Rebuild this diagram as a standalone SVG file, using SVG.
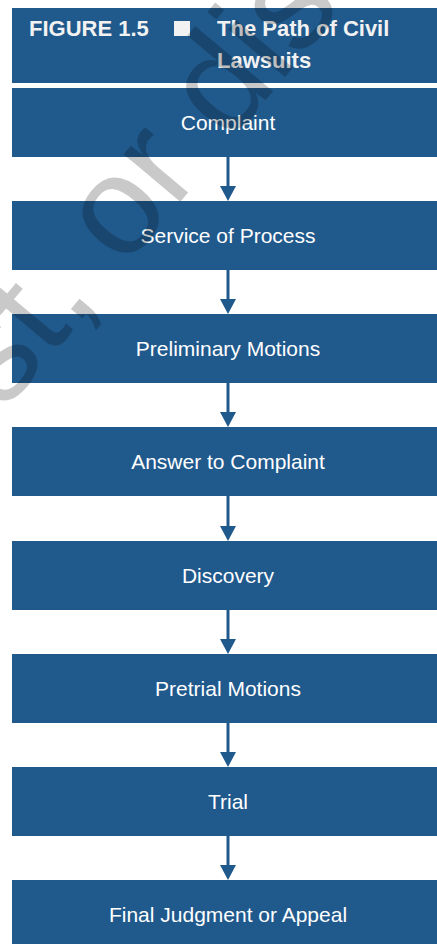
<svg xmlns="http://www.w3.org/2000/svg" width="437" height="944" viewBox="0 0 437 944">
  <style>
    .box { fill: #20598c; }
    .label { font-family: "Liberation Sans", Arial, sans-serif; font-size: 21px; fill: #ffffff; text-anchor: middle; }
    .title { font-family: "Liberation Sans", Arial, sans-serif; font-size: 22px; font-weight: bold; fill: #f2f2f2; }
    .link { stroke: #20598c; stroke-width: 3; fill: none; }
    .head { fill: #20598c; }
    .mark { font-family: "Liberation Sans", Arial, sans-serif; font-size: 140px; fill: #000000; fill-opacity: 0.21; }
  </style>
  <rect width="437" height="944" fill="#ffffff"/>

  <!-- heading bar -->
  <g id="title">
    <rect class="box" x="12" y="8" width="425" height="75"/>
    <text class="title" x="29" y="36">FIGURE 1.5</text>
    <rect x="174" y="21" width="16" height="15" fill="#f2f2f2"/>
    <text class="title" x="217" y="36">The Path of Civil</text>
    <text class="title" x="217" y="68">Lawsuits</text>
  </g>

  <!-- steps -->
  <g id="complaint">
    <rect class="box" x="12" y="88" width="425" height="69"/>
    <text class="label" x="228" y="129.5">Complaint</text>
  </g>
  <g id="service">
    <rect class="box" x="12" y="201" width="425" height="69"/>
    <text class="label" x="228" y="242.5">Service of Process</text>
  </g>
  <g id="preliminary">
    <rect class="box" x="12" y="314" width="425" height="69"/>
    <text class="label" x="228" y="355.5">Preliminary Motions</text>
  </g>
  <g id="answer">
    <rect class="box" x="12" y="427" width="425" height="69"/>
    <text class="label" x="228" y="468.5">Answer to Complaint</text>
  </g>
  <g id="discovery">
    <rect class="box" x="12" y="541" width="425" height="69"/>
    <text class="label" x="228" y="582.5">Discovery</text>
  </g>
  <g id="pretrial">
    <rect class="box" x="12" y="654" width="425" height="69"/>
    <text class="label" x="228" y="695.5">Pretrial Motions</text>
  </g>
  <g id="trial">
    <rect class="box" x="12" y="767" width="425" height="69"/>
    <text class="label" x="228" y="808.5">Trial</text>
  </g>
  <g id="final">
    <rect class="box" x="12" y="880" width="425" height="69"/>
    <text class="label" x="228" y="921.5">Final Judgment or Appeal</text>
  </g>

  <!-- connectors -->
  <g id="connectors">
    <line class="link" x1="228" y1="157" x2="228" y2="188"/>
    <polygon class="head" points="220,186 236,186 228,201"/>
    <line class="link" x1="228" y1="270" x2="228" y2="301"/>
    <polygon class="head" points="220,299 236,299 228,314"/>
    <line class="link" x1="228" y1="383" x2="228" y2="414"/>
    <polygon class="head" points="220,412 236,412 228,427"/>
    <line class="link" x1="228" y1="496" x2="228" y2="528"/>
    <polygon class="head" points="220,526 236,526 228,541"/>
    <line class="link" x1="228" y1="610" x2="228" y2="641"/>
    <polygon class="head" points="220,639 236,639 228,654"/>
    <line class="link" x1="228" y1="723" x2="228" y2="754"/>
    <polygon class="head" points="220,752 236,752 228,767"/>
    <line class="link" x1="228" y1="836" x2="228" y2="867"/>
    <polygon class="head" points="220,865 236,865 228,880"/>
  </g>

  <!-- diagonal watermark, drawn over everything -->
  <text class="mark" transform="translate(4,412) rotate(-50)">st, or dist</text>
</svg>
